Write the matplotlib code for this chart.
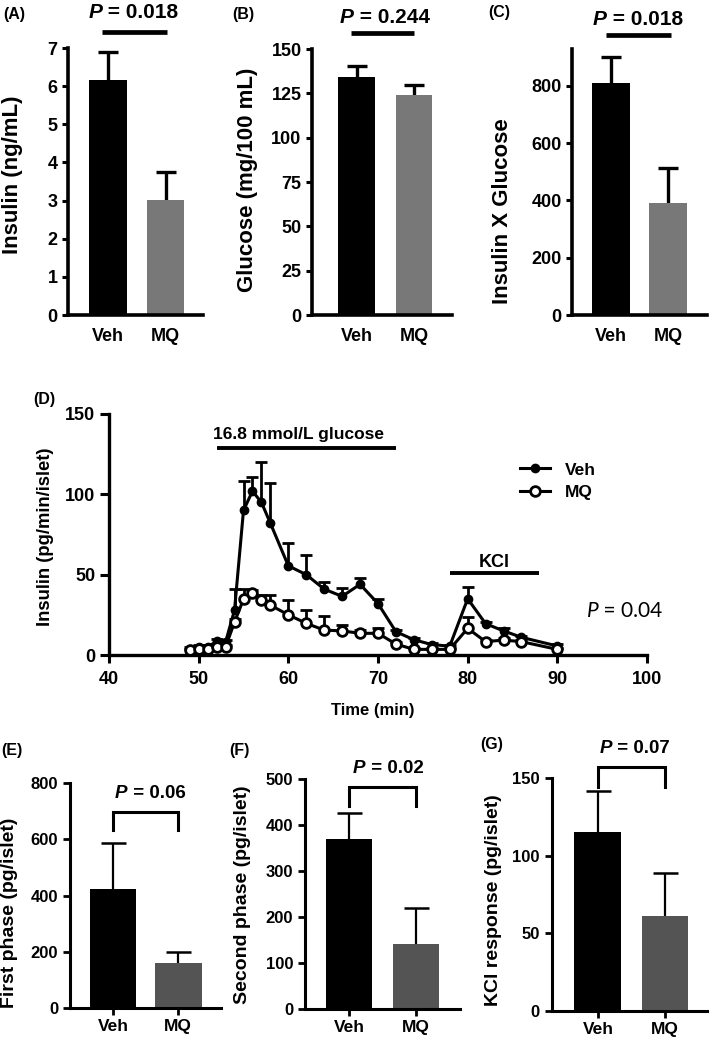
import matplotlib
matplotlib.use('Agg')
import matplotlib.pyplot as plt
import numpy as np
from matplotlib import font_manager
from matplotlib.lines import Line2D

# ---------------- data ----------------
groups = ['Veh', 'MQ']

insulin_mean = [6.15, 3.02]
insulin_sem = [0.74, 0.73]
glucose_mean = [134, 124]
glucose_sem = [6.2, 5.7]
ixg_mean = [811, 392]
ixg_sem = [89, 120]

time_min = [49, 50, 51, 52, 53, 54, 55, 56, 57, 58, 60, 62, 64, 66, 68, 70,
            72, 74, 76, 78, 80, 82, 84, 86, 90]
veh_secretion = [4, 5, 5, 8.5, 8, 28, 90, 102, 95, 82, 55.5, 50, 41, 36.5, 44, 32,
                 14.5, 9.5, 6.5, 5.5, 35, 19.5, 15, 11, 5.6]
veh_secretion_sem = [1, 1, 1, 1.5, 1.5, 13, 18, 8.5, 25, 25, 14, 12.5, 4.5, 5.5, 4, 3,
                     1, 1, 1, 1, 7.5, 1, 1.5, 1, 1]
mq_secretion = [3, 4, 4, 5, 5, 20.5, 34.7, 38.4, 34.2, 31, 25, 19.7, 15.5, 15, 13.5, 13.5,
                6.8, 3.5, 3.5, 3.5, 16.6, 8.3, 9.3, 8.3, 3.5]
mq_secretion_sem = [1, 1, 1, 1, 1, 2, 6.5, 2, 3, 6.5, 9.2, 8, 8.5, 3.5, 2, 3,
                    1, 1, 1, 1, 7, 1, 1, 1, 1]
glucose_period = [52, 72]
kcl_period = [78, 88]

first_phase_mean = [423, 162]
first_phase_sem = [164, 39]
second_phase_mean = [370, 143]
second_phase_sem = [57, 78]
kcl_mean = [115.5, 61]
kcl_sem = [26, 28]

# ---------------- setup ----------------
W, H = 709, 1042
names = {f.name for f in font_manager.fontManager.ttflist}
FAM = ['Liberation Sans', 'DejaVu Sans']
NARROW = 'Liberation Sans Narrow' if 'Liberation Sans Narrow' in names else 'Liberation Sans'
CAL = 'Lato' if 'Lato' in names else 'Open Sans'
plt.rcParams['font.family'] = FAM
plt.rcParams['font.weight'] = 'bold'

fig = plt.figure(figsize=(W / 100, H / 100), dpi=100)
renderer = fig.canvas.get_renderer()


def fx(px):
    return px / W


def fy(py):
    return 1 - py / H


def add_ax(l, t, r, b):
    return fig.add_axes([fx(l), fy(b), (r - l) / W, (b - t) / H])


def p_text(left, base, rest, size, weight='bold', family=None):
    fam = family if family is not None else FAM
    t = fig.text(fx(left), fy(base), 'P', fontsize=size, fontweight=weight,
                 fontstyle='italic', family=fam, ha='left', va='baseline')
    bb = t.get_window_extent(renderer=renderer)
    fig.text(bb.x1 / fig.bbox.width, fy(base), rest, fontsize=size,
             fontweight=weight, family=fam, ha='left', va='baseline')


def style_spines(ax, lw):
    for s in ['top', 'right']:
        ax.spines[s].set_visible(False)
    for s in ['left', 'bottom']:
        ax.spines[s].set_linewidth(lw)


def upper_errorbar(ax, xs, ys, errs, **kw):
    eb = ax.errorbar(xs, ys, yerr=[np.zeros(len(errs)), errs], **kw)
    caps = eb.lines[1]
    if len(caps) >= 2:
        caps[0].set_visible(False)  # hide lower caps (zero-length lower error)
    return eb


x = np.arange(len(groups))

# ---------------- top row ----------------
top_gray = '#787878'
top_specs = [
    ((68, 48, 203, 315), (-0.696, 1.652), (0, 7), np.arange(0, 8, 1), insulin_mean, insulin_sem, 0.66,
     'Insulin (ng/mL)', (13, 175), (-0.10, 1.03, 7.42), (88.3, 18.3, ' = 0.018'), ('(A)', 3, 14)),
    ((312, 49, 452, 315), (-0.774, 1.661), (0, 150), np.arange(0, 151, 25), glucose_mean, glucose_sem, 0.64,
     'Glucose (mg/100 mL)', (248, 180), (-0.10, 1.0, 159), (340, 22.7, ' = 0.244'), ('(B)', 232, 14.5)),
    ((572, 49, 707, 315), (-0.684, 1.684), (0, 928), np.arange(0, 801, 200), ixg_mean, ixg_sem, 0.665,
     'Insulin X Glucose', (502, 211), (-0.09, 1.05, 977), (593, 25, ' = 0.018'), ('(C)', 488, 13)),
]
for box, xl, yl, yt, m, s, w, ylab, labpos, line, ptx, plab in top_specs:
    ax = add_ax(*box)
    ax.bar(x, m, width=w, color=['black', top_gray], zorder=2)
    upper_errorbar(ax, x, m, s, fmt='none', ecolor='black',
                   elinewidth=2.4, capsize=7.5, capthick=2.4, zorder=1)
    ax.set_xlim(*xl)
    ax.set_ylim(*yl)
    ax.set_yticks(yt)
    ax.set_xticks(x)
    ax.set_xticklabels(groups)
    style_spines(ax, 2.6)
    ax.tick_params(axis='y', length=4.5, width=2.2, labelsize=13, pad=3)
    ax.tick_params(axis='x', length=0, labelsize=13, pad=9.5)
    fig.text(fx(labpos[0]), fy(labpos[1]), ylab, rotation=90, ha='center', va='center',
             fontsize=16, fontweight='bold')
    ax.plot([line[0], line[1]], [line[2], line[2]], color='black', lw=3.4,
            clip_on=False, solid_capstyle='butt')
    p_text(ptx[0], ptx[1], ptx[2], 15)
    fig.text(fx(plab[1]), fy(plab[2]), plab[0], ha='left', va='center', fontsize=11.5,
             fontweight='bold')

# ---------------- panel D ----------------
axd = add_ax(109, 414, 647, 655)
t = np.array(time_min)
upper_errorbar(axd, t, veh_secretion, veh_secretion_sem, fmt='-o', color='black',
               ms=6, lw=2.2, elinewidth=2, capsize=4, capthick=2, zorder=3, clip_on=False)
upper_errorbar(axd, t, mq_secretion, mq_secretion_sem, fmt='-o', color='black',
               mfc='white', mec='black', ms=7, mew=2, lw=2.2, elinewidth=2, capsize=4,
               capthick=2, zorder=4, clip_on=False)
axd.set_xlim(40, 100)
axd.set_ylim(0, 150)
axd.set_xticks(np.arange(40, 101, 10))
axd.set_yticks(np.arange(0, 151, 50))
style_spines(axd, 2.4)
axd.tick_params(axis='x', length=5.8, width=2.2, labelsize=13, pad=6)
axd.tick_params(axis='y', length=6.5, width=2.2, labelsize=13, pad=3.5)

axd.plot(glucose_period, [129, 129], color='black', lw=2.8, clip_on=False, solid_capstyle='butt')
axd.text(51.6, 134.4, '16.8 mmol/L glucose', ha='left', va='baseline', fontsize=12.5,
         fontweight='bold')
axd.plot(kcl_period, [50.8, 50.8], color='black', lw=2.8, clip_on=False, solid_capstyle='butt')
axd.text(83, 54.5, 'KCl', ha='center', va='baseline', fontsize=13, fontweight='bold')

h_veh = Line2D([], [], color='black', marker='o', ms=6, lw=2.2)
h_mq = Line2D([], [], color='black', marker='o', ms=7, mfc='white', mec='black', mew=2, lw=2.2)
fig.legend([h_veh, h_mq], groups, loc='center left', bbox_to_anchor=(fx(520), fy(481)),
           bbox_transform=fig.transFigure, frameon=False, handlelength=1.75,
           handletextpad=0.85, labelspacing=0.4, borderpad=0, borderaxespad=0,
           prop={'size': 12.5, 'weight': 'bold'})

fig.text(fx(45.5), fy(537), 'Insulin (pg/min/islet)', rotation=90, ha='center', va='center',
         fontsize=13.3, fontweight='bold')
fig.text(fx(373), fy(710), 'Time (min)', ha='center', va='center', fontsize=12,
         fontweight='bold')
fig.text(fx(33), fy(399), '(D)', ha='left', va='center', fontsize=11.5, fontweight='bold')
p_text(586.7, 617, ' = 0.04', 15, weight='normal', family=[CAL, 'DejaVu Sans'])

# ---------------- bottom row ----------------
bot_gray = '#545454'
bot_specs = [
    ((70, 782.7, 221, 1008.3), (-0.658, 1.654), (0, 800), np.arange(0, 801, 200), first_phase_mean,
     first_phase_sem, 0.715, 'First phase (pg/islet)', (10, 913), (632, 697), (115, 798, ' = 0.06'),
     ('(E)', 1, 750)),
    ((305, 779.3, 460, 1009.3), (-0.659, 1.662), (0, 500), np.arange(0, 501, 100), second_phase_mean,
     second_phase_sem, 0.69, 'Second phase (pg/islet)', (242, 895), (443, 482.6), (353, 773, ' = 0.02'),
     ('(F)', 229, 750)),
    ((551.7, 778.3, 709, 1011), (-0.69, 1.657), (0, 150), np.arange(0, 151, 50), kcl_mean,
     kcl_sem, 0.70, 'KCl response (pg/islet)', (493, 900), (144.7, 157.6), (600, 752.7, ' = 0.07'),
     ('(G)', 480, 745)),
]
for box, xl, yl, yt, m, s, w, ylab, labpos, br, ptx, plab in bot_specs:
    ax = add_ax(*box)
    ax.bar(x, m, width=w, color=['black', bot_gray], zorder=2)
    upper_errorbar(ax, x, m, s, fmt='none', ecolor='black',
                   elinewidth=1.6, capsize=9, capthick=1.8, zorder=1)
    ax.set_xlim(*xl)
    ax.set_ylim(*yl)
    ax.set_yticks(yt)
    ax.set_xticks(x)
    ax.set_xticklabels(groups)
    for lbl in ax.get_xticklabels():
        lbl.set_family([NARROW, 'DejaVu Sans'])
    style_spines(ax, 2.2)
    ax.tick_params(axis='y', length=5, width=2, labelsize=12, pad=3.5)
    ax.tick_params(axis='x', length=5, width=2, labelsize=12.5, pad=3)
    fig.text(fx(labpos[0]), fy(labpos[1]), ylab, rotation=90, ha='center', va='center',
             fontsize=14, fontweight='bold')
    ax.plot([0, 0, 1, 1], [br[0], br[1], br[1], br[0]], color='black', lw=2.2,
            clip_on=False, solid_joinstyle='miter')
    p_text(ptx[0], ptx[1], ptx[2], 13.5)
    fig.text(fx(plab[1]), fy(plab[2]), plab[0], ha='left', va='center', fontsize=11.5,
             fontweight='bold')

fig.savefig('out.png', dpi=100)
